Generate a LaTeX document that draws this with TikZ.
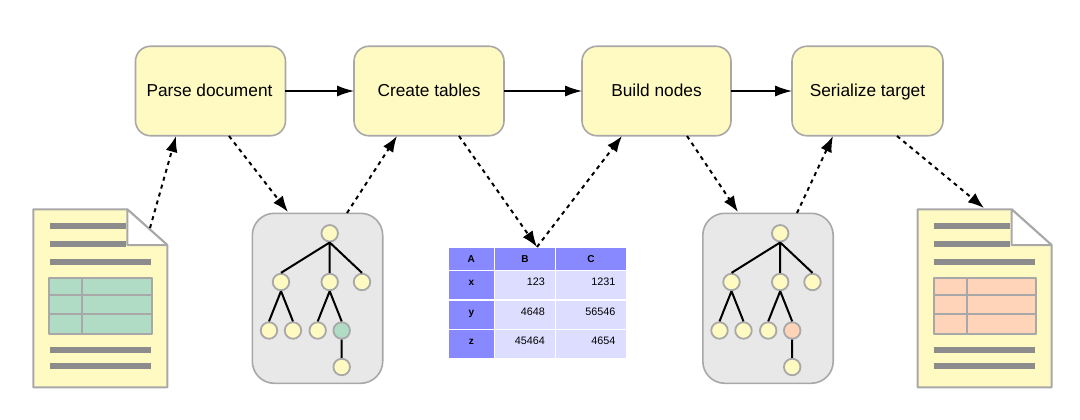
\documentclass[tikz,border=0pt]{standalone}
\usepackage{fontspec}
\setmainfont{Liberation Sans}
\usetikzlibrary{arrows.meta,calc}
\definecolor{boxfill}{HTML}{FFFAC2}
\definecolor{edgegray}{HTML}{A8A8A8}
\definecolor{linegray}{HTML}{8C8C8C}
\definecolor{treebg}{HTML}{E8E8E8}
\definecolor{greenfill}{HTML}{B0DCC6}
\definecolor{peachfill}{HTML}{FFD4B8}
\definecolor{headfill}{HTML}{8888FF}
\definecolor{bodyfill}{HTML}{DDDDFF}
\tikzset{
  stepbox/.style={draw=edgegray,fill=boxfill,line width=1.6pt,rounded corners=15pt,inner sep=0pt,minimum height=89.5pt,text height=13pt,text depth=1pt,font=\fontsize{17.3}{19}\selectfont},
  flow/.style={draw=black,line width=1.7pt,-{Latex[length=17pt,width=11pt]},shorten >=-1pt,shorten <=-1pt},
  dataflow/.style={draw=black,line width=2pt,dash pattern=on 4pt off 4.2pt,-{Latex[length=16pt,width=12pt]}},
  treebox/.style={draw=edgegray,fill=treebg,line width=1.6pt,rounded corners=22pt,inner sep=0pt,minimum width=130.4pt,minimum height=170pt},
  tnode/.style={circle,draw=edgegray,fill=boxfill,line width=1.8pt,inner sep=0pt,minimum size=16.5pt},
  tedge/.style={draw=black,line width=2pt},
  txtline/.style={draw=none,fill=linegray},
  docedge/.style={draw=edgegray,line width=2pt,line join=bevel},
  hcell/.style={fill=headfill,inner sep=0pt,text height=7.5pt,text depth=6.6pt,font=\fontsize{10}{12}\selectfont\bfseries},
  topcell/.style={hcell,text height=7.5pt,text depth=1.5pt,minimum height=22pt},
  bcell/.style={fill=bodyfill,inner sep=0pt,text height=7.5pt,text depth=6.6pt,minimum height=28.2pt,font=\fontsize{10.8}{12}\selectfont},
  doc/.style={inner sep=0pt,minimum width=134pt,minimum height=178pt},
}
% document icon: #1 name, #2 x offset, #3 table colour
\newcommand{\docicon}[3]{%
  \begin{scope}[shift={(#2,0)}]
    \node[doc] (#1) at (100.3,298.3) {};
    \draw[docedge,fill=boxfill] (33.3,209.3) -- (127.3,209.3) -- (167.3,245) -- (167.3,387.3) -- (33.3,387.3) -- cycle;
    \fill[txtline] (49.5,223) rectangle (126,229);
    \fill[txtline] (49.5,241) rectangle (126,247);
    \fill[white] (127.3,209.3) -- (167.3,245) -- (127.3,245) -- cycle;
    \draw[docedge] (127.3,209.3) -- (127.3,245) -- (167.3,245) -- cycle;
    \fill[txtline] (49.5,259) rectangle (150.7,265);
    \draw[docedge,fill=#3] (49.3,278.3) rectangle (151.7,334);
    \draw[docedge] (49.3,294.7) -- (151.7,294.7) (49.3,314.3) -- (151.7,314.3) (82.3,278.3) -- (82.3,334);
    \fill[txtline] (49.5,346.5) rectangle (150.7,352.5);
    \fill[txtline] (49.5,363) rectangle (150.7,369);
  \end{scope}%
}
% tree icon: #1 name prefix, #2 x offset, #3 highlighted node colour
\newcommand{\treeicon}[3]{%
  \begin{scope}[shift={(#2,0)}]
    \node[treebox] (#1) at (317.5,298.3) {};
    \node[tnode] (#1r) at (329.7,233.3) {};
    \node[tnode] (#1a) at (281,282) {};
    \node[tnode] (#1b) at (329.7,282) {};
    \node[tnode] (#1c) at (362,282) {};
    \node[tnode] (#1d) at (269,330.5) {};
    \node[tnode] (#1e) at (293,330.5) {};
    \node[tnode] (#1f) at (317.7,330.5) {};
    \node[tnode,fill=#3] (#1g) at (341.7,330.5) {};
    \node[tnode] (#1h) at (341.7,367) {};
    \draw[tedge] (#1r.south) -- (#1a.north) (#1r.south) -- (#1b.north) (#1r.south) -- (#1c.north);
    \draw[tedge] (#1a.south) -- (#1d.north) (#1a.south) -- (#1e.north) (#1b.south) -- (#1f.north) (#1b.south) -- (#1g.north) (#1g.south) -- (#1h.north);
  \end{scope}%
}
\begin{document}
\begin{tikzpicture}[x=1pt,y=-1pt]
\useasboundingbox (0,0) rectangle (1080,420);
\node[stepbox,minimum width=150pt] (parse) at (210.5,91) {\hspace*{-2pt}Parse document};
\node[stepbox,minimum width=150pt] (tables) at (429,91) {Create tables};
\node[stepbox,minimum width=149pt] (build) at (656.5,91) {Build nodes};
\node[stepbox,minimum width=151pt] (serial) at (867.5,91) {Serialize target};
\docicon{docin}{0}{greenfill}
\docicon{docout}{884.3}{peachfill}
\treeicon{ta}{0}{greenfill}
\treeicon{tb}{450.5}{peachfill}
% table
\node[topcell,minimum width=44.7pt] (hA) at (471.35,259) {A};
\node[topcell,minimum width=60pt] (hB) at (525,259) {B};
\node[topcell,minimum width=69.4pt] (hC) at (591,259) {C};
\node[hcell,minimum width=44.7pt,minimum height=28.2pt] (rx) at (471.35,285.15) {x};
\node[hcell,minimum width=44.7pt,minimum height=28.2pt] (ry) at (471.35,314.7) {y};
\node[hcell,minimum width=44.7pt,minimum height=28.2pt] (rz) at (471.35,344) {z};
\node[bcell,minimum width=60pt,align=right,text width=40pt] (bx) at (525,285.15) {123};
\node[bcell,minimum width=60pt,align=right,text width=40pt] (by) at (525,314.7) {4648};
\node[bcell,minimum width=60pt,align=right,text width=40pt] (bz) at (525,344) {45464};
\node[bcell,minimum width=69.4pt,align=right,text width=49pt] (cx) at (591,285.15) {1231};
\node[bcell,minimum width=69.4pt,align=right,text width=49pt] (cy) at (591,314.7) {56546};
\node[bcell,minimum width=69.4pt,align=right,text width=49pt] (cz) at (591,344) {4654};
% solid flow
\draw[flow] (parse.east) -- (tables.west);
\draw[flow] (tables.east) -- (build.west);
\draw[flow] (build.east) -- (serial.west);
% connector ends
\coordinate (c1) at (150,228);
\coordinate (c2) at (176,136);
\coordinate (c3) at (229,136);
\coordinate (c4) at (288,212);
\coordinate (c5) at (347,213);
\coordinate (c6) at (397,136);
\coordinate (c7) at (459,136);
\coordinate (c8) at (537,247);
\coordinate (c9) at (622,136);
\coordinate (c10) at (687,136);
\coordinate (c11) at (738,212);
\coordinate (c12) at (797,213);
\coordinate (c13) at (833,136);
\coordinate (c14) at (897,136);
\coordinate (c15) at (984,208);
\draw[dataflow] (c1) -- (c2);
\draw[dataflow] (c3) -- (c4);
\draw[dataflow] (c5) -- (c6);
\draw[dataflow] (c7) -- (c8);
\draw[dataflow] (c8) -- (c9);
\draw[dataflow] (c10) -- (c11);
\draw[dataflow] (c12) -- (c13);
\draw[dataflow] (c14) -- (c15);
\end{tikzpicture}
\end{document}
